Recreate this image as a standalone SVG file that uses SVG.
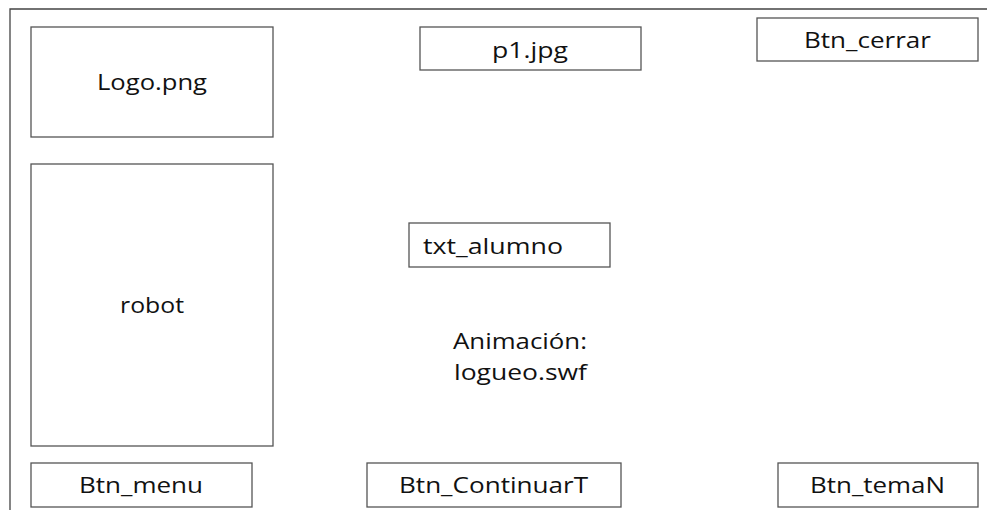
<svg xmlns="http://www.w3.org/2000/svg" width="987" height="510" viewBox="0 0 987 510">
<style>
.box{fill:#fff;stroke:#555;stroke-width:1.3}
.frame{fill:none;stroke:#444;stroke-width:1.3}
text{font-family:"Open Sans","Noto Sans","Liberation Sans",sans-serif;font-size:21px;fill:#111}
</style>
<rect width="987" height="510" fill="#fff"/>
<path class="frame" d="M10,510 V9 H987"/>
<g id="logo"><rect class="box" x="31" y="27" width="242" height="110"/><text x="97" y="90" textLength="110" lengthAdjust="spacingAndGlyphs">Logo.png</text></g>
<g id="robot"><rect class="box" x="31" y="164" width="242" height="282"/><text x="120" y="313" textLength="64" lengthAdjust="spacingAndGlyphs">robot</text></g>
<g id="p1"><rect class="box" x="420" y="27" width="221" height="43"/><text x="492" y="58" textLength="76" lengthAdjust="spacingAndGlyphs">p1.jpg</text></g>
<g id="btn_cerrar"><rect class="box" x="757" y="18" width="221" height="43"/><text x="804" y="48" textLength="127" lengthAdjust="spacingAndGlyphs">Btn_cerrar</text></g>
<g id="txt_alumno"><rect class="box" x="409" y="223" width="201" height="44"/><text x="423" y="254" textLength="140" lengthAdjust="spacingAndGlyphs">txt_alumno</text></g>
<g id="animacion"><text x="453" y="349" textLength="134" lengthAdjust="spacingAndGlyphs">Animación:</text><text x="454" y="380" textLength="133" lengthAdjust="spacingAndGlyphs">logueo.swf</text></g>
<g id="btn_menu"><rect class="box" x="31" y="463" width="221" height="44"/><text x="79" y="493" textLength="124" lengthAdjust="spacingAndGlyphs">Btn_menu</text></g>
<g id="btn_continuar"><rect class="box" x="367" y="463" width="254" height="44"/><text x="399" y="493" textLength="189" lengthAdjust="spacingAndGlyphs">Btn_ContinuarT</text></g>
<g id="btn_temaN"><rect class="box" x="778" y="463" width="200" height="44"/><text x="810" y="493" textLength="135" lengthAdjust="spacingAndGlyphs">Btn_temaN</text></g>
<g id="connectors"></g>
</svg>
